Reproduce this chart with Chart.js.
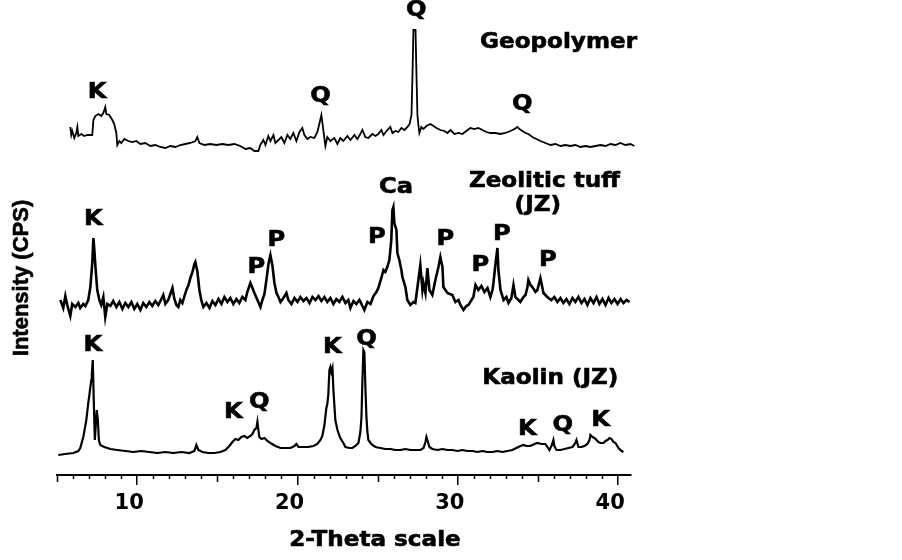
<!DOCTYPE html>
<html>
<head>
<meta charset="utf-8">
<script src="https://cdn.jsdelivr.net/npm/chart.js@4/dist/chart.umd.min.js"></script>
<style>
  body { margin: 0; background: #fff; }
  #wrap { width: 902px; height: 560px; }
</style>
</head>
<body>
<div id="wrap"><canvas id="xrd" width="902" height="560"></canvas></div>
<script>
// --- data (2-theta in degrees, intensity in arbitrary stacked units) ---
const geoTheta = [5.83, 5.89, 5.95, 6.08, 6.20, 6.27, 6.33, 6.52, 6.70, 6.89, 7.20, 7.27, 7.39, 7.58, 7.76, 7.89, 8.01, 8.08, 8.26, 8.45,
  8.57, 8.70, 8.76, 8.89, 9.01, 9.20, 9.45, 9.70, 9.95, 10.20, 10.51, 10.82, 11.13, 11.44, 11.76, 12.07, 12.38, 12.69, 13.00, 13.32,
  13.63, 13.75, 13.88, 14.19, 14.56, 14.94, 15.31, 15.69, 16.06, 16.43, 16.75, 17.06, 17.31, 17.56, 17.68, 17.87, 18.00, 18.18, 18.31, 18.50,
  18.62, 18.81, 18.99, 19.18, 19.37, 19.55, 19.74, 19.93, 20.12, 20.30, 20.43, 20.62, 20.80, 21.05, 21.24, 21.36, 21.49, 21.61, 21.74, 21.86,
  22.05, 22.30, 22.49, 22.67, 22.86, 23.11, 23.30, 23.55, 23.73, 23.92, 24.05, 24.23, 24.42, 24.67, 24.86, 25.04, 25.23, 25.36, 25.60, 25.79,
  25.92, 26.11, 26.29, 26.48, 26.67, 26.86, 26.99, 27.11, 27.17, 27.23, 27.36, 27.42, 27.48, 27.54, 27.60, 27.73, 27.85, 28.04, 28.29, 28.48,
  28.67, 28.91, 29.16, 29.35, 29.54, 29.79, 30.04, 30.28, 30.53, 30.78, 31.03, 31.28, 31.53, 31.78, 32.03, 32.34, 32.66, 32.97, 33.28, 33.53,
  33.72, 33.84, 34.03, 34.22, 34.40, 34.65, 34.90, 35.15, 35.46, 35.77, 36.09, 36.40, 36.71, 37.02, 37.33, 37.65, 37.96, 38.27, 38.58, 38.90,
  39.21, 39.52, 39.83, 40.14, 40.45, 40.76, 41.01, 41.26];
const geoCounts = [348, 340, 344, 337, 342, 348, 339, 341, 339, 340, 340, 355, 359, 361, 359, 362, 368, 361, 360, 355,
  351, 342, 330, 334, 332, 336, 334, 333, 334, 331, 332, 329, 330, 328, 327, 329, 328, 330, 331, 332,
  334, 338, 332, 330, 331, 330, 331, 330, 331, 329, 326, 327, 324, 324, 330, 335, 330, 339, 334, 340,
  332, 335, 338, 332, 340, 336, 342, 334, 343, 347, 340, 336, 338, 337, 343, 351, 360, 345, 329, 338,
  334, 337, 331, 337, 334, 339, 335, 340, 336, 341, 345, 338, 337, 341, 339, 341, 345, 340, 345, 348,
  342, 344, 343, 347, 345, 348, 351, 360, 399, 445, 445, 400, 360, 350, 342, 348, 346, 349, 351, 349,
  347, 345, 344, 342, 345, 341, 342, 341, 344, 347, 346, 347, 345, 343, 342, 342, 341, 342, 344, 346,
  348, 346, 344, 342, 341, 338, 336, 334, 332, 330, 331, 329, 330, 329, 330, 328, 329, 328, 329, 330,
  329, 331, 330, 332, 330, 331, 329, 330];

const zeoTheta = [5.21, 5.39, 5.52, 5.64, 5.83, 5.95, 6.14, 6.33, 6.45, 6.64, 6.77, 6.95, 7.08, 7.20, 7.27, 7.33, 7.39, 7.51, 7.64, 7.76,
  7.89, 8.01, 8.14, 8.33, 8.51, 8.70, 8.89, 9.08, 9.26, 9.45, 9.64, 9.82, 10.01, 10.20, 10.38, 10.57, 10.76, 10.94, 11.13, 11.32,
  11.51, 11.63, 11.76, 11.94, 12.07, 12.20, 12.32, 12.45, 12.57, 12.69, 12.82, 12.95, 13.07, 13.20, 13.32, 13.45, 13.57, 13.63, 13.76, 13.88,
  14.01, 14.13, 14.32, 14.51, 14.69, 14.88, 15.07, 15.26, 15.44, 15.63, 15.81, 16.00, 16.19, 16.37, 16.56, 16.75, 16.87, 17.06, 17.19, 17.31,
  17.50, 17.69, 17.81, 17.94, 18.06, 18.19, 18.31, 18.44, 18.56, 18.69, 18.81, 18.94, 19.12, 19.31, 19.43, 19.62, 19.81, 20.00, 20.18, 20.37,
  20.56, 20.75, 20.93, 21.12, 21.31, 21.49, 21.68, 21.86, 22.05, 22.24, 22.42, 22.61, 22.80, 22.99, 23.17, 23.30, 23.49, 23.67, 23.86, 24.05,
  24.17, 24.36, 24.55, 24.74, 24.92, 25.04, 25.23, 25.36, 25.48, 25.60, 25.73, 25.85, 25.92, 25.98, 26.04, 26.17, 26.23, 26.35, 26.48, 26.54,
  26.73, 26.85, 27.04, 27.23, 27.35, 27.54, 27.66, 27.79, 27.85, 27.98, 28.10, 28.23, 28.41, 28.60, 28.79, 28.91, 29.04, 29.10, 29.35, 29.66,
  29.85, 30.04, 30.16, 30.35, 30.53, 30.66, 30.85, 30.97, 31.10, 31.28, 31.47, 31.66, 31.85, 32.03, 32.16, 32.22, 32.34, 32.47, 32.53, 32.66,
  32.85, 33.03, 33.16, 33.34, 33.47, 33.59, 33.78, 33.90, 34.09, 34.22, 34.34, 34.40, 34.53, 34.65, 34.84, 34.96, 35.15, 35.34, 35.52, 35.65,
  35.83, 36.02, 36.21, 36.40, 36.58, 36.77, 36.96, 37.15, 37.33, 37.52, 37.71, 37.90, 38.08, 38.27, 38.46, 38.65, 38.83, 39.02, 39.21, 39.40,
  39.58, 39.77, 39.96, 40.15, 40.33, 40.52, 40.71];
const zeoCounts = [175, 167, 179, 170, 159, 171, 168, 172, 167, 171, 169, 175, 188, 212, 237, 225, 210, 185, 175, 170,
  178, 158, 171, 169, 174, 168, 173, 166, 172, 168, 173, 166, 171, 165, 172, 168, 173, 169, 174, 170,
  176, 180, 171, 175, 181, 187, 176, 170, 168, 175, 172, 179, 185, 190, 197, 203, 211, 213, 203, 185,
  174, 168, 172, 167, 174, 170, 176, 171, 178, 173, 177, 171, 176, 172, 178, 175, 183, 192, 187, 182,
  175, 168, 175, 181, 195, 211, 220, 209, 192, 182, 178, 173, 177, 182, 175, 171, 177, 173, 178, 174,
  177, 172, 178, 175, 179, 174, 178, 173, 177, 171, 176, 173, 178, 172, 175, 167, 174, 171, 175, 169,
  165, 173, 171, 179, 183, 187, 197, 205, 203, 208, 215, 235, 265, 268, 252, 245, 222, 215, 205, 198,
  188, 175, 170, 173, 172, 195, 210, 185, 192, 182, 207, 185, 180, 195, 208, 218, 208, 188, 182, 180,
  173, 175, 170, 165, 169, 170, 175, 178, 190, 185, 189, 183, 187, 178, 185, 192, 210, 227, 205, 185,
  175, 178, 172, 177, 190, 178, 175, 173, 178, 180, 188, 195, 190, 188, 183, 185, 197, 182, 179, 177,
  175, 178, 173, 177, 172, 176, 171, 177, 173, 178, 172, 176, 170, 177, 172, 178, 171, 176, 170, 177,
  172, 176, 171, 176, 172, 175, 173];

const kaoTheta = [5.08, 5.52, 6.02, 6.33, 6.45, 6.64, 6.83, 6.95, 7.02, 7.08, 7.14, 7.17, 7.23, 7.30, 7.36, 7.42, 7.48, 7.55, 7.61, 7.70,
  7.95, 8.33, 8.76, 9.26, 9.76, 10.26, 10.76, 11.26, 11.76, 12.26, 12.76, 13.26, 13.57, 13.69, 13.82, 14.07, 14.44, 14.82, 15.19, 15.50,
  15.75, 15.94, 16.12, 16.31, 16.50, 16.69, 16.87, 17.06, 17.19, 17.31, 17.44, 17.50, 17.56, 17.62, 17.75, 17.94, 18.12, 18.31, 18.62, 18.94,
  19.25, 19.56, 19.81, 19.93, 20.06, 20.37, 20.68, 20.99, 21.24, 21.43, 21.55, 21.68, 21.80, 21.86, 21.92, 21.99, 22.05, 22.11, 22.18, 22.24,
  22.30, 22.36, 22.49, 22.67, 22.86, 22.99, 23.24, 23.42, 23.61, 23.80, 23.92, 23.99, 24.05, 24.11, 24.17, 24.24, 24.30, 24.36, 24.42, 24.55,
  24.67, 24.86, 25.17, 25.48, 25.79, 26.11, 26.42, 26.73, 27.04, 27.36, 27.67, 27.86, 27.98, 28.04, 28.10, 28.23, 28.41, 28.72, 29.04, 29.35,
  29.66, 29.97, 30.28, 30.60, 30.91, 31.22, 31.53, 31.85, 32.16, 32.47, 32.78, 33.09, 33.40, 33.65, 33.90, 34.09, 34.28, 34.53, 34.78, 34.96,
  35.21, 35.46, 35.59, 35.71, 35.84, 35.96, 36.02, 36.15, 36.40, 36.65, 36.90, 37.15, 37.33, 37.40, 37.52, 37.71, 37.90, 38.08, 38.21, 38.27,
  38.40, 38.52, 38.65, 38.77, 38.90, 39.09, 39.21, 39.33, 39.46, 39.58, 39.71, 39.83, 40.02, 40.21, 40.33];
const kaoCounts = [20, 21, 22, 24, 27, 38, 55, 72, 80, 88, 95, 100, 115, 70, 35, 50, 65, 55, 35, 30,
  28, 26, 25, 24, 23, 24, 23, 22, 23, 22, 23, 22, 24, 30, 25, 23, 22, 22, 23, 25,
  29, 33, 36, 35, 38, 39, 37, 39, 41, 45, 47, 53, 45, 38, 36, 37, 34, 32, 29, 27,
  27, 27, 29, 31, 28, 28, 28, 29, 31, 35, 39, 50, 67, 71, 80, 105, 108, 103, 107, 85,
  70, 55, 45, 37, 32, 28, 27, 27, 29, 32, 43, 58, 95, 125, 123, 85, 58, 43, 35, 32,
  30, 28, 27, 26, 26, 25, 25, 26, 25, 25, 25, 27, 33, 38, 35, 28, 26, 25, 26, 25,
  25, 24, 25, 24, 24, 23, 24, 23, 23, 24, 23, 24, 25, 27, 29, 30, 29, 29, 31, 32,
  31, 31, 28, 25, 29, 35, 29, 25, 25, 26, 27, 28, 32, 35, 28, 28, 29, 31, 35, 40,
  38, 37, 35, 33, 32, 32, 34, 35, 37, 36, 33, 32, 27, 24, 23];

// phase markers (K kaolinite, Q quartz, P phillipsite, Ca calcite)
const peakText = ["K", "Q", "Q", "Q",
  "K", "P", "P", "Ca", "P", "P", "P", "P", "P",
  "K", "K", "Q", "K", "Q", "K", "Q", "K"];
const peakTheta = [7.50, 21.43, 27.41, 34.02,
  7.26, 17.43, 18.68, 26.14, 24.95, 29.22, 31.41, 32.75, 35.62,
  7.23, 16.00, 17.62, 22.17, 24.30, 34.34, 36.55, 38.90];
const peakCounts = [382, 378, 464, 370.5,
  255.5, 207.5, 234, 287.5, 237.5, 235.5, 209.5, 240.5, 214,
  129.5, 62.5, 72.5, 127.5, 135.5, 45.5, 49.5, 54.5];

const sampleNames = ["Geopolymer", "Zeolitic tuff", "(JZ)", "Kaolin (JZ)"];
const sampleTheta = [36.28, 35.40, 34.99, 35.77];
const sampleCounts = [432.5, 293.5, 269.5, 96.5];

const xTickValues = [10, 20, 30, 40];

function toPoints(theta, counts) {
  return theta.map((t, i) => ({ x: t, y: counts[i] }));
}

// heavy, slightly wide lettering like the original figure
function wideText(ctx, text, px, py, stretch) {
  ctx.save();
  ctx.translate(px, py);
  ctx.scale(stretch, 1);
  ctx.fillText(text, 0, 0);
  ctx.strokeText(text, 0, 0);
  ctx.restore();
}

const annotate = {
  id: "annotate",
  afterDraw(chart) {
    const { ctx, scales: { x, y } } = chart;
    ctx.save();
    ctx.fillStyle = "#000";
    ctx.strokeStyle = "#000";
    ctx.textAlign = "center";
    ctx.textBaseline = "middle";

    // minor ticks along the 2-theta axis
    const yAxis = chart.chartArea.bottom;
    ctx.lineWidth = 1.5;
    for (let v = 5; v <= 40; v++) {
      if (v % 10 === 0) continue;
      const px = Math.round(x.getPixelForValue(v)) + 0.5;
      ctx.beginPath();
      ctx.moveTo(px, yAxis);
      ctx.lineTo(px, yAxis + (v % 5 === 0 ? 7 : 4));
      ctx.stroke();
    }

    ctx.lineWidth = 0.6;
    ctx.font = "bold 21px 'DejaVu Sans'";
    peakText.forEach((t, i) => {
      wideText(ctx, t, x.getPixelForValue(peakTheta[i]), y.getPixelForValue(peakCounts[i]), 1.15);
    });
    sampleNames.forEach((t, i) => {
      wideText(ctx, t, x.getPixelForValue(sampleTheta[i]), y.getPixelForValue(sampleCounts[i]), 1.1);
    });

    // axis titles
    wideText(ctx, "2-Theta scale", 375, 541, 1.1);
    ctx.translate(22, 278);
    ctx.rotate(-Math.PI / 2);
    ctx.font = "bold 22px 'Liberation Sans'";
    ctx.fillText("Intensity (CPS)", 0, 0);
    ctx.strokeText("Intensity (CPS)", 0, 0);
    ctx.restore();
  }
};

const lineStyle = {
  borderColor: "#000",
  borderWidth: 2.2,
  pointRadius: 0,
  tension: 0,
  fill: false,
  clip: false
};

new Chart(document.getElementById("xrd").getContext("2d"), {
  type: "line",
  data: {
    datasets: [
      { label: "Geopolymer", data: toPoints(geoTheta, geoCounts), ...lineStyle, borderWidth: 1.8 },
      { label: "Zeolitic tuff (JZ)", data: toPoints(zeoTheta, zeoCounts), ...lineStyle, borderWidth: 2.6 },
      { label: "Kaolin (JZ)", data: toPoints(kaoTheta, kaoCounts), ...lineStyle }
    ]
  },
  options: {
    responsive: false,
    animation: false,
    layout: { padding: { top: 5, left: 57, right: 271, bottom: 0 } },
    plugins: {
      legend: { display: false },
      tooltip: { enabled: false }
    },
    scales: {
      x: {
        type: "linear",
        min: 5,
        max: 40.8,
        afterBuildTicks: (axis) => { axis.ticks = xTickValues.map((v) => ({ value: v })); },
        afterFit: (axis) => { axis.height = 85; },
        border: { display: true, color: "#000", width: 2 },
        grid: { display: true, drawOnChartArea: false, drawTicks: true, tickLength: 10, color: "#000", lineWidth: 1.5 },
        ticks: {
          color: "#000",
          padding: 6,
          labelOffset: -8,
          maxRotation: 0,
          font: { family: "DejaVu Sans", size: 21, weight: "bold" }
        }
      },
      y: {
        display: false,
        min: 0,
        max: 470
      }
    }
  },
  plugins: [annotate]
});
</script>
</body>
</html>
